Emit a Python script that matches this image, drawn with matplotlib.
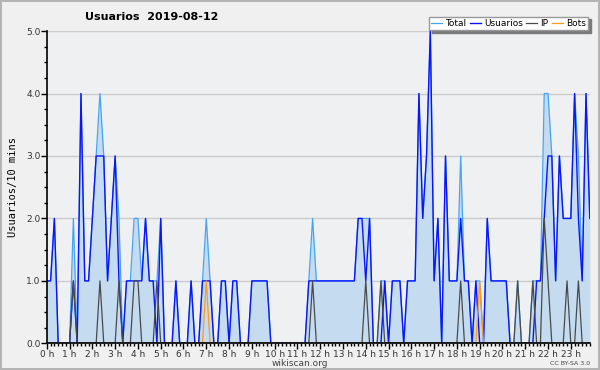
import numpy as np
import matplotlib
matplotlib.use("Agg")
import matplotlib.pyplot as plt
from matplotlib.ticker import MultipleLocator, FuncFormatter

# editors per 10 minutes, 2019-08-12 (144 slots)
usuarios = [1, 1, 2, 0, 0, 0, 0, 1, 0, 4, 1, 1,
            2, 3, 3, 3, 1, 2, 3, 1, 0, 1, 1, 1,
            1, 1, 2, 1, 1, 0, 2, 0, 0, 0, 1, 0,
            0, 0, 1, 0, 0, 1, 1, 1, 0, 0, 1, 1,
            0, 1, 1, 0, 0, 0, 1, 1, 1, 1, 1, 0,
            0, 0, 0, 0, 0, 0, 0, 0, 0, 1, 1, 1,
            1, 1, 1, 1, 1, 1, 1, 1, 1, 1, 2, 2,
            1, 2, 0, 0, 0, 1, 0, 1, 1, 1, 0, 1,
            1, 1, 4, 2, 3, 5, 1, 2, 0, 3, 1, 1,
            1, 2, 1, 1, 0, 1, 0, 0, 2, 1, 1, 1,
            1, 1, 0, 0, 0, 0, 0, 0, 0, 1, 1, 2,
            3, 3, 1, 3, 2, 2, 2, 4, 2, 1, 4, 2]

total = [1, 1, 2, 0, 0, 0, 0, 2, 0, 4, 1, 1,
         2, 3, 4, 3, 1, 2, 3, 2, 0, 1, 1, 2,
         2, 1, 2, 1, 1, 1, 2, 0, 0, 0, 1, 0,
         0, 0, 1, 0, 0, 1, 2, 1, 0, 0, 1, 1,
         0, 1, 1, 0, 0, 0, 1, 1, 1, 1, 1, 0,
         0, 0, 0, 0, 0, 0, 0, 0, 0, 1, 2, 1,
         1, 1, 1, 1, 1, 1, 1, 1, 1, 1, 2, 2,
         2, 2, 0, 0, 1, 1, 0, 1, 1, 1, 0, 1,
         1, 1, 4, 2, 3, 5, 1, 2, 0, 3, 1, 1,
         1, 3, 1, 1, 0, 1, 1, 0, 2, 1, 1, 1,
         1, 1, 0, 0, 1, 0, 0, 0, 1, 1, 1, 4,
         4, 3, 1, 3, 2, 2, 2, 4, 3, 1, 4, 2]

ip = [0, 0, 0, 0, 0, 0, 0, 1, 0, 0, 0, 0,
      0, 0, 1, 0, 0, 0, 0, 1, 0, 0, 0, 1,
      1, 0, 0, 0, 0, 1, 0, 0, 0, 0, 0, 0,
      0, 0, 0, 0, 0, 0, 0, 0, 0, 0, 0, 0,
      0, 0, 0, 0, 0, 0, 0, 0, 0, 0, 0, 0,
      0, 0, 0, 0, 0, 0, 0, 0, 0, 0, 1, 0,
      0, 0, 0, 0, 0, 0, 0, 0, 0, 0, 0, 0,
      1, 0, 0, 0, 1, 0, 0, 0, 0, 0, 0, 0,
      0, 0, 0, 0, 0, 0, 0, 0, 0, 0, 0, 0,
      0, 1, 0, 0, 0, 0, 0, 0, 0, 0, 0, 0,
      0, 0, 0, 0, 1, 0, 0, 0, 1, 0, 0, 2,
      1, 0, 0, 0, 0, 1, 0, 0, 1, 0, 0, 0]

bots = [0, 0, 0, 0, 0, 0, 0, 0, 0, 0, 0, 0,
        0, 0, 0, 0, 0, 0, 0, 0, 0, 0, 0, 0,
        0, 0, 0, 0, 0, 0, 0, 0, 0, 0, 0, 0,
        0, 0, 0, 0, 0, 0, 1, 0, 0, 0, 0, 0,
        0, 0, 0, 0, 0, 0, 0, 0, 0, 0, 0, 0,
        0, 0, 0, 0, 0, 0, 0, 0, 0, 0, 0, 0,
        0, 0, 0, 0, 0, 0, 0, 0, 0, 0, 0, 0,
        0, 0, 0, 0, 0, 0, 0, 0, 0, 0, 0, 0,
        0, 0, 0, 0, 0, 0, 0, 0, 0, 0, 0, 0,
        0, 0, 0, 0, 0, 0, 1, 0, 0, 0, 0, 0,
        0, 0, 0, 0, 0, 0, 0, 0, 0, 0, 0, 0,
        0, 0, 0, 0, 0, 0, 0, 0, 0, 0, 0, 0]

hours = np.arange(len(total)) / 6.0

fig = plt.figure(figsize=(6, 3.7), dpi=100, facecolor='#f0f0f0',
                 edgecolor='#b4b4b4', linewidth=1.5)
ax = fig.add_axes([0.078, 0.072, 0.905, 0.844])
ax.set_facecolor('#eff0f1')

ax.fill_between(hours, total, color='#c5dcf0', lw=0)
ax.plot(hours, total, color='#45a5f5', lw=0.9, label='Total')
ax.plot(hours, usuarios, color='#0a14ff', lw=1.0, label='Usuarios')
ax.plot(hours, ip, color='#4a4a4a', lw=0.9, label='IP')
ax.plot(hours, bots, color='#ff9a1a', lw=0.9, label='Bots')

ax.set_xlim(0, hours[-1])
ax.set_ylim(0, 5)
ax.xaxis.set_major_locator(MultipleLocator(1))
ax.xaxis.set_minor_locator(MultipleLocator(1 / 6))
ax.xaxis.set_major_formatter(FuncFormatter(lambda v, p: f"{int(round(v))} h"))
ax.yaxis.set_major_locator(MultipleLocator(1))
ax.yaxis.set_minor_locator(MultipleLocator(0.25))
ax.yaxis.set_major_formatter(FuncFormatter(lambda v, p: f"{v:.1f}"))
ax.tick_params(which='major', direction='out', length=4, width=1, labelsize=6.5,
               labelcolor='#333333', pad=0.5)
ax.tick_params(which='minor', direction='out', length=2.5, width=1)

for s in ['top', 'right']:
    ax.spines[s].set_visible(False)
for s in ['left', 'bottom']:
    ax.spines[s].set_linewidth(1.2)
ax.yaxis.grid(True, color='#cccccc', lw=1)
ax.set_axisbelow(True)

ax.set_ylabel('Usuarios/10 mins', family='DejaVu Sans Mono', fontsize=7.5, labelpad=6)

fig.text(0.142, 0.953, 'Usuarios  2019-08-12', fontsize=8, fontweight='bold',
         ha='left', va='center')

leg = ax.legend(loc='upper right', bbox_to_anchor=(0.98, 0.955),
                bbox_transform=fig.transFigure, ncol=4, fontsize=6.5,
                frameon=True, fancybox=False, framealpha=1,
                shadow={'color': '#7a7a7a', 'alpha': 1},
                handlelength=1.2, handletextpad=0.35, columnspacing=0.4,
                borderpad=0.25, borderaxespad=0)
leg.get_frame().set_edgecolor('#999999')
leg.get_frame().set_linewidth(1)

fig.text(0.5, 0.018, 'wikiscan.org', ha='center', va='center', fontsize=6.5,
         color='#444444')
fig.text(0.983, 0.018, 'CC BY-SA 3.0', ha='right', va='center', fontsize=4.5,
         color='#444444')

fig.savefig('out.png', dpi=100, facecolor=fig.get_facecolor(),
            edgecolor=fig.get_edgecolor())
